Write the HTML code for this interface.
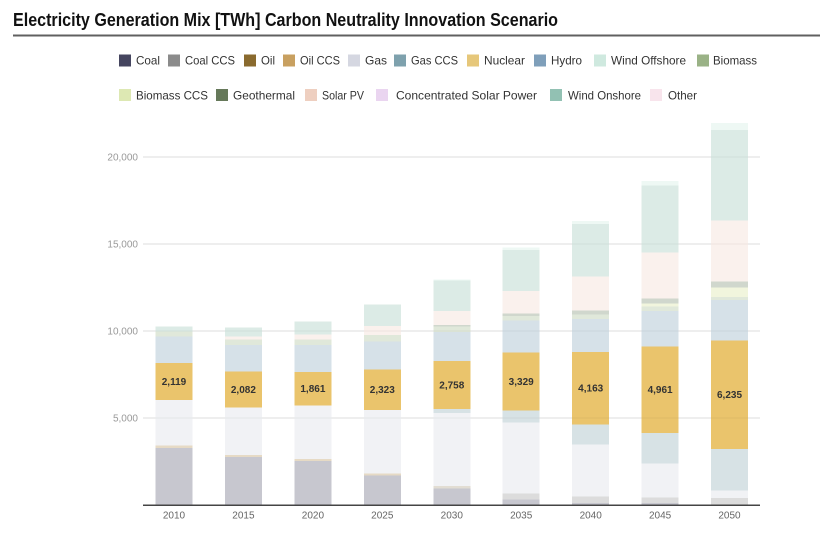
<!DOCTYPE html>
<html><head><meta charset="utf-8"><style>
html,body{margin:0;padding:0;background:#fff;}
svg{display:block;font-family:"Liberation Sans",sans-serif;}
</style></head><body>
<svg width="820" height="551" viewBox="0 0 820 551" xmlns="http://www.w3.org/2000/svg">
<rect width="820" height="551" fill="#fff"/>
<text x="13" y="26" font-size="18" font-weight="bold" fill="#111" textLength="545" lengthAdjust="spacingAndGlyphs">Electricity Generation Mix [TWh] Carbon Neutrality Innovation Scenario</text>
<rect x="13" y="34.5" width="807" height="2" fill="#606060"/>

<!-- legend row 1 -->
<g font-size="12" fill="#333">
<rect x="119" y="54.5" width="12" height="12" fill="#45455f"/><text x="136" y="64.5" textLength="24" lengthAdjust="spacingAndGlyphs">Coal</text>
<rect x="168" y="54.5" width="12" height="12" fill="#8b8b8b"/><text x="185" y="64.5" textLength="50" lengthAdjust="spacingAndGlyphs">Coal CCS</text>
<rect x="244" y="54.5" width="12" height="12" fill="#8a6a2e"/><text x="261" y="64.5" textLength="14" lengthAdjust="spacingAndGlyphs">Oil</text>
<rect x="283" y="54.5" width="12" height="12" fill="#c8a060"/><text x="300" y="64.5" textLength="40" lengthAdjust="spacingAndGlyphs">Oil CCS</text>
<rect x="348" y="54.5" width="12" height="12" fill="#d5d7e1"/><text x="365" y="64.5" textLength="22" lengthAdjust="spacingAndGlyphs">Gas</text>
<rect x="394" y="54.5" width="12" height="12" fill="#7ea1ad"/><text x="411" y="64.5" textLength="47" lengthAdjust="spacingAndGlyphs">Gas CCS</text>
<rect x="467" y="54.5" width="12" height="12" fill="#e6c77a"/><text x="484" y="64.5" textLength="41" lengthAdjust="spacingAndGlyphs">Nuclear</text>
<rect x="534" y="54.5" width="12" height="12" fill="#7f9fba"/><text x="551" y="64.5" textLength="31" lengthAdjust="spacingAndGlyphs">Hydro</text>
<rect x="594" y="54.5" width="12" height="12" fill="#cfe9df"/><text x="611" y="64.5" textLength="75" lengthAdjust="spacingAndGlyphs">Wind Offshore</text>
<rect x="697" y="54.5" width="12" height="12" fill="#9ab286"/><text x="713" y="64.5" textLength="44" lengthAdjust="spacingAndGlyphs">Biomass</text>
</g>
<!-- legend row 2 -->
<g font-size="12" fill="#333">
<rect x="119" y="89" width="12" height="12" fill="#dde8b3"/><text x="136" y="99.5" textLength="72" lengthAdjust="spacingAndGlyphs">Biomass CCS</text>
<rect x="216" y="89" width="12" height="12" fill="#66795a"/><text x="233" y="99.5" textLength="62" lengthAdjust="spacingAndGlyphs">Geothermal</text>
<rect x="305" y="89" width="12" height="12" fill="#eecfc0"/><text x="322" y="99.5" textLength="42" lengthAdjust="spacingAndGlyphs">Solar PV</text>
<rect x="376" y="89" width="12" height="12" fill="#ead5f0"/><text x="396" y="99.5" textLength="141" lengthAdjust="spacingAndGlyphs">Concentrated Solar Power</text>
<rect x="550" y="89" width="12" height="12" fill="#92c1b3"/><text x="568" y="99.5" textLength="73" lengthAdjust="spacingAndGlyphs">Wind Onshore</text>
<rect x="650" y="89" width="12" height="12" fill="#f8e4ec"/><text x="668" y="99.5" textLength="29" lengthAdjust="spacingAndGlyphs">Other</text>
</g>

<!-- gridlines -->
<g stroke="#e9e9e9" stroke-width="1">
<line x1="143" y1="157" x2="760" y2="157"/>
<line x1="143" y1="244" x2="760" y2="244"/>
<line x1="143" y1="331" x2="760" y2="331"/>
<line x1="143" y1="418" x2="760" y2="418"/>
</g>
<g font-size="10" fill="#999" text-anchor="end">
<text x="138" y="160.5">20,000</text>
<text x="138" y="247.5">15,000</text>
<text x="138" y="334.5">10,000</text>
<text x="138" y="421.5">5,000</text>
</g>

<!-- bars -->
<g shape-rendering="crispEdges">
<g>
<rect x="155.5" y="448" width="37" height="57" fill="#c7c7cf"/>
<rect x="155.5" y="445.3" width="37" height="2.7" fill="#e6dac5"/>
<rect x="155.5" y="400" width="37" height="45.3" fill="#f1f2f5"/>
<rect x="155.5" y="363" width="37" height="37" fill="#eac46c"/>
<rect x="155.5" y="336.7" width="37" height="26.3" fill="#d6e1e8"/>
<rect x="155.5" y="331.7" width="37" height="5" fill="#e0e8da"/>
<rect x="155.5" y="326.7" width="37" height="5" fill="#dcebe6"/>
</g>
<g>
<rect x="224.9" y="457" width="37" height="48" fill="#c7c7cf"/>
<rect x="224.9" y="455" width="37" height="2" fill="#e6dac5"/>
<rect x="224.9" y="407.7" width="37" height="47.3" fill="#f1f2f5"/>
<rect x="224.9" y="371.3" width="37" height="36.4" fill="#eac46c"/>
<rect x="224.9" y="345" width="37" height="26.3" fill="#d6e1e8"/>
<rect x="224.9" y="339.3" width="37" height="5.7" fill="#e0e8da"/>
<rect x="224.9" y="336.7" width="37" height="2.6" fill="#faf1ed"/>
<rect x="224.9" y="327.7" width="37" height="9" fill="#dcebe6"/>
</g>
<g>
<rect x="294.4" y="461" width="37" height="44" fill="#c7c7cf"/>
<rect x="294.4" y="459" width="37" height="2" fill="#e6dac5"/>
<rect x="294.4" y="405.3" width="37" height="53.7" fill="#f1f2f5"/>
<rect x="294.4" y="372" width="37" height="33.3" fill="#eac46c"/>
<rect x="294.4" y="345" width="37" height="27" fill="#d6e1e8"/>
<rect x="294.4" y="339.3" width="37" height="5.7" fill="#e0e8da"/>
<rect x="294.4" y="334.3" width="37" height="5" fill="#faf1ed"/>
<rect x="294.4" y="321.3" width="37" height="13" fill="#dcebe6"/>
</g>
<g>
<rect x="363.8" y="475.7" width="37" height="29.3" fill="#c7c7cf"/>
<rect x="363.8" y="473.7" width="37" height="2" fill="#e6dac5"/>
<rect x="363.8" y="410" width="37" height="63.7" fill="#f1f2f5"/>
<rect x="363.8" y="369.6" width="37" height="40.4" fill="#eac46c"/>
<rect x="363.8" y="341.7" width="37" height="27.9" fill="#d6e1e8"/>
<rect x="363.8" y="335" width="37" height="6.7" fill="#e0e8da"/>
<rect x="363.8" y="326" width="37" height="9" fill="#faf1ed"/>
<rect x="363.8" y="304.7" width="37" height="21.3" fill="#dcebe6"/>
</g>
<g>
<rect x="433.3" y="488.7" width="37" height="16.3" fill="#c7c7cf"/>
<rect x="433.3" y="486" width="37" height="2.7" fill="#e2ddd3"/>
<rect x="433.3" y="413" width="37" height="73" fill="#f1f2f5"/>
<rect x="433.3" y="409" width="37" height="4" fill="#d7e2e5"/>
<rect x="433.3" y="361" width="37" height="48" fill="#eac46c"/>
<rect x="433.3" y="332" width="37" height="29" fill="#d6e1e8"/>
<rect x="433.3" y="326.7" width="37" height="5.3" fill="#e0e8da"/>
<rect x="433.3" y="325" width="37" height="1.7" fill="#d0d7cd"/>
<rect x="433.3" y="311" width="37" height="14" fill="#faf1ed"/>
<rect x="433.3" y="280.7" width="37" height="30.3" fill="#dcebe6"/>
<rect x="433.3" y="279.7" width="37" height="1" fill="#eef8f4"/>
</g>
<g>
<rect x="502.7" y="499.3" width="37" height="5.7" fill="#c7c7cf"/>
<rect x="502.7" y="493.7" width="37" height="5.6" fill="#dcdcdc"/>
<rect x="502.7" y="422.7" width="37" height="71" fill="#f1f2f5"/>
<rect x="502.7" y="410.7" width="37" height="12" fill="#d7e2e5"/>
<rect x="502.7" y="352.5" width="37" height="58.2" fill="#eac46c"/>
<rect x="502.7" y="320.3" width="37" height="32.2" fill="#d6e1e8"/>
<rect x="502.7" y="316" width="37" height="4.3" fill="#e0e8da"/>
<rect x="502.7" y="313.3" width="37" height="2.7" fill="#d0d7cd"/>
<rect x="502.7" y="291" width="37" height="22.3" fill="#faf1ed"/>
<rect x="502.7" y="250" width="37" height="41" fill="#dcebe6"/>
<rect x="502.7" y="247.7" width="37" height="2.3" fill="#eef8f4"/>
</g>
<g>
<rect x="572.2" y="503" width="37" height="2" fill="#c7c7cf"/>
<rect x="572.2" y="496.3" width="37" height="6.7" fill="#dcdcdc"/>
<rect x="572.2" y="444.7" width="37" height="51.6" fill="#f1f2f5"/>
<rect x="572.2" y="424.3" width="37" height="20.4" fill="#d7e2e5"/>
<rect x="572.2" y="352" width="37" height="72.3" fill="#eac46c"/>
<rect x="572.2" y="319" width="37" height="33" fill="#d6e1e8"/>
<rect x="572.2" y="314.3" width="37" height="4.7" fill="#e0e8da"/>
<rect x="572.2" y="310.7" width="37" height="3.6" fill="#d0d7cd"/>
<rect x="572.2" y="276.3" width="37" height="34.4" fill="#faf1ed"/>
<rect x="572.2" y="224" width="37" height="52.3" fill="#dcebe6"/>
<rect x="572.2" y="221" width="37" height="3" fill="#eef8f4"/>
</g>
<g>
<rect x="641.6" y="503" width="37" height="2" fill="#c7c7cf"/>
<rect x="641.6" y="497.3" width="37" height="5.7" fill="#dcdcdc"/>
<rect x="641.6" y="463.7" width="37" height="33.6" fill="#f1f2f5"/>
<rect x="641.6" y="433" width="37" height="30.7" fill="#d7e2e5"/>
<rect x="641.6" y="346.7" width="37" height="86.3" fill="#eac46c"/>
<rect x="641.6" y="311" width="37" height="35.7" fill="#d6e1e8"/>
<rect x="641.6" y="306.7" width="37" height="4.3" fill="#e0e8da"/>
<rect x="641.6" y="303.3" width="37" height="3.4" fill="#f1f5dd"/>
<rect x="641.6" y="298.3" width="37" height="5" fill="#d0d7cd"/>
<rect x="641.6" y="252.7" width="37" height="45.6" fill="#faf1ed"/>
<rect x="641.6" y="185.7" width="37" height="67" fill="#dcebe6"/>
<rect x="641.6" y="181" width="37" height="4.7" fill="#eef8f4"/>
</g>
<g>
<rect x="711" y="498" width="37" height="7" fill="#dcdcdc"/>
<rect x="711" y="490.7" width="37" height="7.3" fill="#f1f2f5"/>
<rect x="711" y="449" width="37" height="41.7" fill="#d7e2e5"/>
<rect x="711" y="340.5" width="37" height="108.5" fill="#eac46c"/>
<rect x="711" y="300" width="37" height="40.5" fill="#d6e1e8"/>
<rect x="711" y="297" width="37" height="3" fill="#e0e8da"/>
<rect x="711" y="287.7" width="37" height="9.3" fill="#f1f5dd"/>
<rect x="711" y="281.7" width="37" height="6" fill="#d0d7cd"/>
<rect x="711" y="220.7" width="37" height="61" fill="#faf1ed"/>
<rect x="711" y="130" width="37" height="90.7" fill="#dcebe6"/>
<rect x="711" y="123" width="37" height="7" fill="#eef8f4"/>
</g>
</g>

<g stroke="#000" stroke-opacity="0.05" stroke-width="1">
<line x1="143" y1="157" x2="760" y2="157"/>
<line x1="143" y1="244" x2="760" y2="244"/>
<line x1="143" y1="331" x2="760" y2="331"/>
<line x1="143" y1="418" x2="760" y2="418"/>
</g>

<g font-size="10" font-weight="bold" fill="#333" text-anchor="middle">
<text x="174" y="385">2,119</text>
<text x="243.4" y="393">2,082</text>
<text x="312.9" y="392">1,861</text>
<text x="382.3" y="393">2,323</text>
<text x="451.8" y="388.5">2,758</text>
<text x="521.2" y="385">3,329</text>
<text x="590.7" y="391.5">4,163</text>
<text x="660.1" y="393">4,961</text>
<text x="729.5" y="398">6,235</text>
</g>

<rect x="143" y="504.5" width="617" height="1.5" fill="#444"/>
<g font-size="10" fill="#666" text-anchor="middle">
<text x="174" y="518.5">2010</text>
<text x="243.4" y="518.5">2015</text>
<text x="312.9" y="518.5">2020</text>
<text x="382.3" y="518.5">2025</text>
<text x="451.8" y="518.5">2030</text>
<text x="521.2" y="518.5">2035</text>
<text x="590.7" y="518.5">2040</text>
<text x="660.1" y="518.5">2045</text>
<text x="729.5" y="518.5">2050</text>
</g>
</svg>
</body></html>
